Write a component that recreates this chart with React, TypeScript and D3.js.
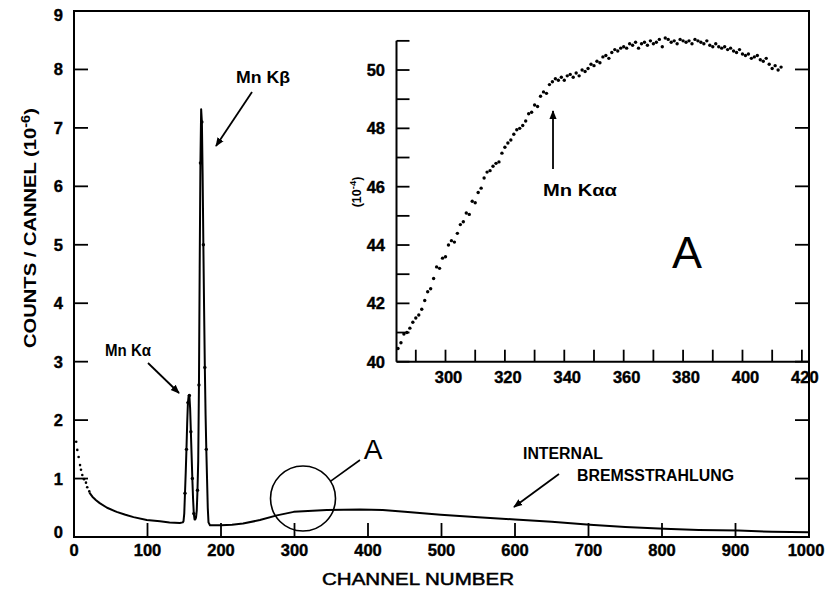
import React from 'react';
import * as d3 from 'd3';

// ---------- data ----------
// dotted start of spectrum (channel, counts x1e-6)
const tailChannels = [3, 4.5, 6.3, 8.2, 9.5, 11.3, 13.6, 16.3, 18, 20.8];
const tailCounts = [1.63, 1.49, 1.37, 1.23, 1.15, 1.06, 0.99, 0.93, 0.85, 0.78];

// continuous spectrum
const specChannels = [
  21, 25, 30, 35, 45, 58, 70, 81, 99, 117, 130, 144, 148,
  149, 150, 151, 152, 153, 154, 155, 156, 157, 158, 159, 160, 161, 162, 163, 164, 165, 166,
  167, 168, 169, 170, 171, 172, 173, 174, 175, 176, 177, 178, 179, 180, 181, 182, 183, 185,
  200, 215, 230, 253, 276, 299, 344, 389, 420, 450, 499, 550, 600, 650, 702, 750, 803, 850, 904, 950, 1000,
];
const specCounts = [
  0.76, 0.69, 0.63, 0.58, 0.5, 0.43, 0.38, 0.34, 0.29, 0.27, 0.25, 0.24, 0.25,
  0.27, 0.4, 0.75, 1.1, 1.5, 1.95, 2.3, 2.42, 2.42, 2.2, 1.8, 1.4, 1.0, 0.65, 0.4, 0.3, 0.3, 0.33,
  0.45, 0.8, 1.3, 2.6, 4.6, 6.4, 7.32, 7.1, 6.2, 5.0, 3.9, 2.9, 2.1, 1.5, 1.0, 0.5, 0.25, 0.2,
  0.2, 0.21, 0.23, 0.29, 0.37, 0.43, 0.46, 0.47, 0.46, 0.43, 0.38, 0.34, 0.3, 0.26, 0.21, 0.17, 0.14, 0.12, 0.11, 0.09, 0.08,
];
// channels on the peaks that carry a visible data dot
const peakDotChannels = [151, 153, 155, 157, 159, 161, 163, 168, 170, 172, 174, 176, 178, 180];

// inset A (counts x1e-4), one value per channel starting at 284
const insetFirstChannel = 284;
const insetCounts = [
  40.45, 40.65, 40.95, 41.0, 41.15, 41.35, 41.5, 41.6, 41.8, 42.1,
  42.4, 42.5, 42.85, 43.25, 43.2, 43.55, 43.6, 44.0, 44.15, 44.1,
  44.4, 44.7, 44.8, 45.1, 45.05, 45.5, 45.45, 45.8, 45.95, 46.3,
  46.5, 46.55, 46.7, 46.8, 46.85, 47.15, 47.35, 47.5, 47.6, 47.8,
  47.95, 48.0, 48.1, 48.25, 48.5, 48.55, 48.8, 48.75, 49.1, 49.25,
  49.2, 49.5, 49.6, 49.7, 49.65, 49.75, 49.65, 49.8, 49.85, 49.75,
  49.9, 49.8, 50.0, 49.95, 50.05, 50.2, 50.15, 50.3, 50.25, 50.45,
  50.5, 50.4, 50.6, 50.7, 50.65, 50.75, 50.8, 50.75, 50.9, 50.85,
  50.95, 50.75, 50.9, 50.95, 50.85, 51.0, 50.9, 50.95, 51.05, 50.8,
  51.1, 51.05, 50.95, 51.0, 50.9, 51.05, 51.0, 50.95, 51.0, 50.9,
  51.05, 51.0, 50.95, 50.9, 51.0, 50.85, 50.8, 50.9, 50.8, 50.75,
  50.8, 50.7, 50.75, 50.65, 50.6, 50.7, 50.55, 50.5, 50.55, 50.4,
  50.45, 50.5, 50.35, 50.3, 50.4, 50.2, 50.05, 50.15, 50.0, 50.1,
];

// ticks
const mainXTicks = [0, 100, 200, 300, 400, 500, 600, 700, 800, 900, 1000];
const mainYTicks = [0, 1, 2, 3, 4, 5, 6, 7, 8, 9];
const insetXTicks = [290, 300, 310, 320, 330, 340, 350, 360, 370, 380, 390, 400, 410, 420];
const insetXLabels = [300, 320, 340, 360, 380, 400, 420];
const insetYTicks = [40, 41, 42, 43, 44, 45, 46, 47, 48, 49, 50, 51];
const insetYLabels = [40, 42, 44, 46, 48, 50];

const FONT = "'Liberation Sans', Arial, Helvetica, sans-serif";
const W = 826;
const H = 590;

export default function App() {
  const x = d3.scaleLinear().domain([0, 1000]).range([74, 809]);
  const y = d3.scaleLinear().domain([0, 9]).range([537, 11]);
  const ix = d3.scaleLinear().domain([283.5, 422.4]).range([396.5, 809]);
  const iy = d3.scaleLinear().domain([40, 51]).range([361.7, 40.85]);

  const specPts: [number, number][] = specChannels.map((c, i) => [c, specCounts[i]]);
  const line = d3.line<[number, number]>().x(d => x(d[0])).y(d => y(d[1]));
  const peakDots = specPts.filter(p => peakDotChannels.includes(p[0]));

  const insetPts = insetCounts.map((v, i) => [insetFirstChannel + i, v]);

  const tickLen = 14;
  const TS = 16.5;

  return (
    <svg width={W} height={H} style={{ position: 'absolute', left: 0, top: 0, background: '#fff' }}
      fontFamily={FONT}>
      <defs>
        <marker id="ah" viewBox="0 0 10 10" refX="9" refY="5" markerWidth="5" markerHeight="5"
          orient="auto-start-reverse" markerUnits="strokeWidth">
          <path d="M0,1 L10,5 L0,9 z" fill="#000" />
        </marker>
      </defs>
      <rect x={0} y={0} width={W} height={H} fill="#fff" />

      {/* main frame */}
      <rect x={x(0)} y={y(9)} width={x(1000) - x(0)} height={y(0) - y(9)} fill="none" stroke="#000" strokeWidth={2} />

      {/* main x ticks */}
      {mainXTicks.map(t => (
        <g key={'mx' + t}>
          <line x1={x(t)} x2={x(t)} y1={y(0)} y2={y(0) - tickLen} stroke="#000" strokeWidth={1.8} />
          <text x={x(t) - (t === 1000 ? 3 : 0)} y={556} textAnchor="middle" fontSize={TS} fontWeight={700}
            stroke="#000" strokeWidth={0.4}>{t}</text>
        </g>
      ))}
      {/* main y ticks (left and right) */}
      {mainYTicks.map(t => (
        <g key={'my' + t}>
          <line x1={x(0)} x2={x(0) + tickLen} y1={y(t)} y2={y(t)} stroke="#000" strokeWidth={1.8} />
          <line x1={x(1000)} x2={x(1000) - tickLen} y1={y(t)} y2={y(t)} stroke="#000" strokeWidth={1.8} />
          <text x={63} y={y(t) + (t === 9 ? 10 : t === 0 ? 1 : 6)} textAnchor="end" fontSize={TS} fontWeight={700}
            stroke="#000" strokeWidth={0.4}>{t}</text>
        </g>
      ))}

      {/* axis titles */}
      <text x={418} y={585} textAnchor="middle" fontSize={17} stroke="#000" strokeWidth={0.5}
        textLength={192} lengthAdjust="spacingAndGlyphs">CHANNEL  NUMBER</text>
      <text transform="translate(36,228) rotate(-90)" textAnchor="middle" fontSize={16.5} fontWeight={700}
        textLength={240} lengthAdjust="spacingAndGlyphs">
        COUNTS / CANNEL (10<tspan dy={-6} fontSize={12}>-6</tspan><tspan dy={6}>)</tspan>
      </text>

      {/* spectrum */}
      {tailChannels.map((c, i) => (
        <circle key={'t' + i} cx={x(c)} cy={y(tailCounts[i])} r={1.3} fill="#000" />
      ))}
      <path d={line(specPts) || ''} fill="none" stroke="#000" strokeWidth={2} strokeLinejoin="round" />
      {peakDots.map((p, i) => (
        <circle key={'pd' + i} cx={x(p[0])} cy={y(p[1])} r={1.7} fill="#000" />
      ))}

      {/* annotations main */}
      <text x={105} y={356} fontSize={16} fontWeight={700} textLength={46} lengthAdjust="spacingAndGlyphs">Mn Kα</text>
      <line x1={148} y1={363} x2={179} y2={393} stroke="#000" strokeWidth={1.8} markerEnd="url(#ah)" />
      <text x={236} y={83} fontSize={16.5} fontWeight={700} textLength={54} lengthAdjust="spacingAndGlyphs">Mn Kβ</text>
      <line x1={252} y1={92} x2={216} y2={146} stroke="#000" strokeWidth={1.8} markerEnd="url(#ah)" />

      <circle cx={303} cy={498.5} r={32.5} fill="none" stroke="#000" strokeWidth={1.6} />
      <line x1={330} y1={481.7} x2={360} y2={460} stroke="#000" strokeWidth={1.6} />
      <text x={373} y={459} textAnchor="middle" fontSize={28} fontWeight={400}>A</text>

      <text x={523} y={459} fontSize={16} fontWeight={700} textLength={80} lengthAdjust="spacingAndGlyphs">INTERNAL</text>
      <text x={577} y={481} fontSize={16} fontWeight={700} textLength={157} lengthAdjust="spacingAndGlyphs">BREMSSTRAHLUNG</text>
      <line x1={559} y1={474} x2={514} y2={507} stroke="#000" strokeWidth={1.8} markerEnd="url(#ah)" />

      {/* ---------- inset ---------- */}
      <line x1={ix(283.5)} x2={ix(283.5)} y1={iy(40)} y2={iy(51)} stroke="#000" strokeWidth={2} />
      <line x1={ix(283.5)} x2={809} y1={iy(40)} y2={iy(40)} stroke="#000" strokeWidth={2} />
      {insetYTicks.map(t => (
        <line key={'iyt' + t} x1={ix(283.5)} x2={ix(283.5) + 13} y1={iy(t)} y2={iy(t)} stroke="#000" strokeWidth={1.8} />
      ))}
      {insetYLabels.map(t => (
        <text key={'iyl' + t} x={385} y={iy(t) + 6} textAnchor="end" fontSize={TS} fontWeight={700}
          stroke="#000" strokeWidth={0.4}>{t}</text>
      ))}
      {insetXTicks.map(t => (
        <line key={'ixt' + t} x1={ix(t)} x2={ix(t)} y1={iy(40)} y2={iy(40) - 12} stroke="#000" strokeWidth={1.8} />
      ))}
      {insetXLabels.map(t => (
        <text key={'ixl' + t} x={ix(t) + 3} y={383} textAnchor="middle" fontSize={TS} fontWeight={700}
          stroke="#000" strokeWidth={0.4}>{t}</text>
      ))}
      <text transform="translate(361,192) rotate(-90)" textAnchor="middle" fontSize={12.5} fontWeight={700}>
        (10<tspan dy={-5} fontSize={9.5}>-4</tspan><tspan dy={5}>)</tspan>
      </text>

      {insetPts.map((p, i) => (
        <circle key={'ip' + i} cx={ix(p[0])} cy={iy(p[1])} r={1.7} fill="#000" />
      ))}

      <line x1={ix(336.2)} x2={ix(336.2)} y1={169} y2={111} stroke="#000" strokeWidth={1.8} markerEnd="url(#ah)" />
      <text x={543} y={196} fontSize={16.5} fontWeight={700} textLength={74} lengthAdjust="spacingAndGlyphs">Mn Kαα</text>
      <text x={687} y={268} textAnchor="middle" fontSize={45} fontWeight={400}>A</text>
    </svg>
  );
}
